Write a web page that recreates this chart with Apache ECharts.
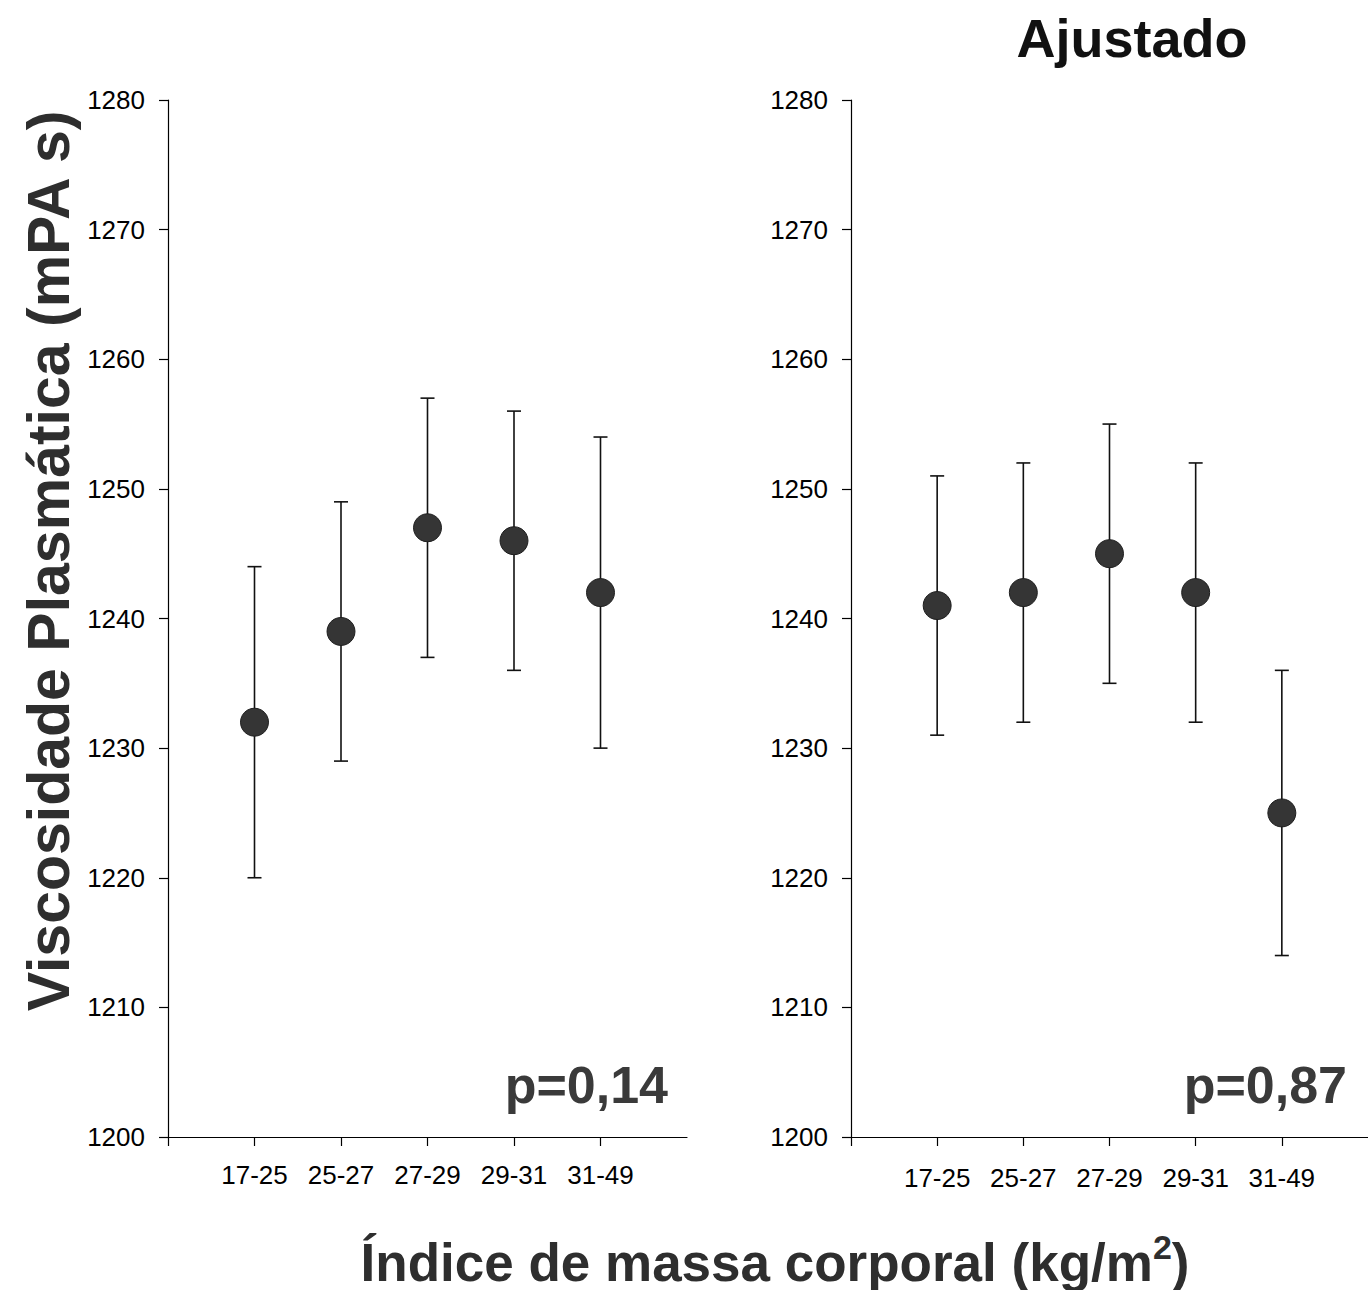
<!DOCTYPE html>
<html>
<head>
<meta charset="utf-8">
<script src="https://cdn.jsdelivr.net/npm/echarts@6/dist/echarts.min.js"></script>
<style>
html,body{margin:0;padding:0;background:#fff;}
#chart{width:1368px;height:1290px;}
</style>
</head>
<body>
<div id="chart"></div>
<script>
// ---- data ----
const categories = ['17-25', '25-27', '27-29', '29-31', '31-49'];
const crudeMean = [1232, 1239, 1247, 1246, 1242];
const crudeLow  = [1220, 1229, 1237, 1236, 1230];
const crudeHigh = [1244, 1249, 1257, 1256, 1254];
const adjMean = [1241, 1242, 1245, 1242, 1225];
const adjLow  = [1231, 1232, 1235, 1232, 1214];
const adjHigh = [1251, 1252, 1255, 1252, 1236];
const yMin = 1200, yMax = 1280, yStep = 10;
const pCrude = 'p=0,14';
const pAdj = 'p=0,87';
const panelTitle = 'Ajustado';
const yTitle = 'Viscosidade Plasmática (mPA s)';
const xTitle = 'Índice de massa corporal (kg/m';

// ---- helpers ----
const FONT = '"Liberation Sans", Arial, sans-serif';
const catPos = categories.map((c, i) => i + 1);
function pts(mean) { return mean.map((v, i) => [catPos[i], v]); }
function bars(lo, hi) { return lo.map((v, i) => [catPos[i], v, hi[i]]); }

function xAxis(gi) {
  return {
    type: 'value', gridIndex: gi, min: 0, max: categories.length + 1, interval: 1,
    axisLine: { show: true, lineStyle: { color: '#000', width: 1.2 } },
    axisTick: { show: true, length: 9, customValues: [0].concat(catPos), lineStyle: { color: '#000', width: 1.2 } },
    axisLabel: {
      customValues: catPos, margin: gi === 0 ? 25 : 28,
      formatter: v => categories[v - 1] || '',
      fontFamily: FONT, fontSize: 26, color: '#000'
    },
    splitLine: { show: false }
  };
}
function yAxis(gi) {
  return {
    type: 'value', gridIndex: gi, min: yMin, max: yMax, interval: yStep,
    axisLine: { show: true, lineStyle: { color: '#000', width: 1.2 } },
    axisTick: { show: true, length: 9, lineStyle: { color: '#000', width: 1.2 } },
    axisLabel: { margin: 23, fontFamily: FONT, fontSize: 26, color: '#000', formatter: v => String(v) },
    splitLine: { show: false }
  };
}
function errSeries(gi, data) {
  return {
    type: 'custom', xAxisIndex: gi, yAxisIndex: gi, data: data, z: 2,
    renderItem: function (params, api) {
      const x = api.value(0);
      const top = api.coord([x, api.value(2)]);
      const bot = api.coord([x, api.value(1)]);
      const hw = 7;
      const st = { stroke: '#111', lineWidth: 1.6 };
      return {
        type: 'group', children: [
          { type: 'line', shape: { x1: top[0], y1: top[1], x2: bot[0], y2: bot[1] }, style: st },
          { type: 'line', shape: { x1: top[0] - hw, y1: top[1], x2: top[0] + hw, y2: top[1] }, style: st },
          { type: 'line', shape: { x1: bot[0] - hw, y1: bot[1], x2: bot[0] + hw, y2: bot[1] }, style: st }
        ]
      };
    }
  };
}
function ptSeries(gi, data) {
  return {
    type: 'scatter', xAxisIndex: gi, yAxisIndex: gi, data: data, z: 3,
    symbol: 'circle', symbolSize: 28,
    itemStyle: { color: '#353535', borderColor: '#1e1e1e', borderWidth: 1, opacity: 1 }
  };
}

const chart = echarts.init(document.getElementById('chart'), null, { renderer: 'svg' });
chart.setOption({
  animation: false,
  backgroundColor: '#fff',
  grid: [
    { left: 168, top: 100, width: 519, height: 1037 },
    { left: 851, top: 100, width: 523, height: 1037 }
  ],
  xAxis: [xAxis(0), xAxis(1)],
  yAxis: [yAxis(0), yAxis(1)],
  series: [
    errSeries(0, bars(crudeLow, crudeHigh)),
    ptSeries(0, pts(crudeMean)),
    errSeries(1, bars(adjLow, adjHigh)),
    ptSeries(1, pts(adjMean))
  ],
  graphic: [
    { type: 'text', x: 1132, y: 38, style: { text: panelTitle, font: 'bold 54px ' + FONT, fill: '#111', align: 'center', verticalAlign: 'middle' } },
    { type: 'text', x: 668, y: 1085, style: { text: pCrude, font: 'bold 52px ' + FONT, fill: '#3a3a3a', align: 'right', verticalAlign: 'middle' } },
    { type: 'text', x: 1347, y: 1085, style: { text: pAdj, font: 'bold 52px ' + FONT, fill: '#3a3a3a', align: 'right', verticalAlign: 'middle' } },
    { type: 'text', x: 49, y: 561, rotation: Math.PI / 2,
      style: { text: yTitle, font: 'bold 59px ' + FONT, fill: '#2e2e2e', align: 'center', verticalAlign: 'middle' } },
    { type: 'text', x: 775, y: 1262,
      style: {
        text: '{a|' + xTitle + '}{s|2}{a|)}', align: 'center', verticalAlign: 'middle',
        rich: {
          a: { font: 'bold 53px ' + FONT, fill: '#2e2e2e', color: '#2e2e2e' },
          s: { font: 'bold 34px ' + FONT, fill: '#2e2e2e', color: '#2e2e2e', padding: [0, 0, 30, 0] }
        }
      } }
  ]
});
</script>
</body>
</html>
